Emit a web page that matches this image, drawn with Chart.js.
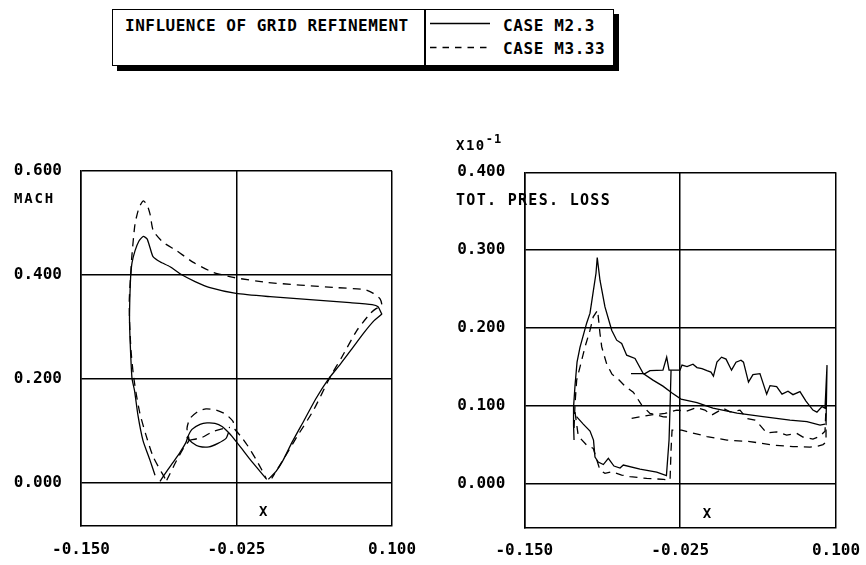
<!DOCTYPE html>
<html>
<head>
<meta charset="utf-8">
<script src="https://cdn.jsdelivr.net/npm/chart.js@4/dist/chart.umd.min.js"></script>
<style>
  html, body { margin: 0; padding: 0; background: #fff; overflow: hidden; }
  #page { position: relative; width: 866px; height: 565px; overflow: hidden; background: #fff;
          font-family: "DejaVu Sans Mono", monospace; color: #000; }
  .lbl { position: absolute; white-space: nowrap; font-weight: bold; line-height: 1; }
  #key { position: absolute; left: 112px; top: 9px; width: 500px; height: 55px;
         border: 1.5px solid #000; box-shadow: 5px 5px 0 #000; background: #fff; }
  #keyDiv { position: absolute; left: 424px; top: 9px; width: 1.5px; height: 58px; background: #000; }
  #keyLines { position: absolute; left: 0; top: 0; }
  canvas { position: absolute; }
  #machCanvas { left: 0; top: 120px; }
  #lossCanvas { left: 433px; top: 120px; }
</style>
</head>
<body>
<div id="page">
  <div id="key"></div>
  <div id="keyDiv"></div>
  <svg id="keyLines" width="866" height="80">
    <line x1="430" y1="23.5" x2="490" y2="23.5" stroke="#000" stroke-width="1.3"/>
    <line x1="430" y1="47.5" x2="490" y2="47.5" stroke="#000" stroke-width="1.3" stroke-dasharray="6.5 6"/>
  </svg>
  <div class="lbl" style="left:125px; top:18px; font-size:16px; letter-spacing:0.5px;">INFLUENCE OF GRID REFINEMENT</div>
  <div class="lbl" style="left:503px; top:18px; font-size:16px; letter-spacing:0.6px;">CASE M2.3</div>
  <div class="lbl" style="left:503px; top:41px; font-size:16px; letter-spacing:0.6px;">CASE M3.33</div>

  <canvas id="machCanvas" width="437" height="445"></canvas>
  <canvas id="lossCanvas" width="448" height="445"></canvas>

  <div class="lbl" style="left:14px; top:191px; font-size:14px; letter-spacing:1.8px;">MACH</div>
  <div class="lbl" style="left:456px; top:138px; font-size:14px; letter-spacing:1.5px;">X10<span style="position:relative; top:-7px; font-size:12px; letter-spacing:1px;">-1</span></div>
  <div class="lbl" style="left:456px; top:193px; font-size:15px; letter-spacing:1.3px;">TOT. PRES. LOSS</div>
</div>

<script>
// Axis tick values
const xTicks = [-0.15, -0.025, 0.1];
const machTicks = [0, 0.2, 0.4, 0.6];
const lossTicks = [0, 0.1, 0.2, 0.3, 0.4];

// Mach number along the profile, case M2.3 (solid)
const machM23Outer = [
  [-0.0905,0.015],[-0.0945,0.0435],[-0.1002,0.082],[-0.1042,0.130],[-0.107,0.178],[-0.109,0.201],
  [-0.1102,0.2545],[-0.111,0.312],[-0.1108,0.350],[-0.1104,0.379],[-0.110,0.400],[-0.109,0.423],
  [-0.1066,0.446],[-0.1034,0.465],[-0.0999,0.4736],[-0.0969,0.469],[-0.0945,0.452],[-0.0921,0.435],
  [-0.0865,0.425],[-0.0784,0.4155],[-0.069,0.400],[-0.0583,0.387],[-0.0463,0.3753],[-0.0254,0.3643],
  [0.002,0.358],[0.0341,0.3522],[0.0663,0.3465],[0.084,0.3427],[0.0888,0.3388],[0.0912,0.3273],
  [0.0918,0.3248],[0.0856,0.312],[0.0775,0.289],[0.0679,0.2583],[0.0582,0.2276],[0.0486,0.1988],
  [0.0389,0.1624],[0.0293,0.1202],[0.0196,0.078],[0.0124,0.0435],[0.0068,0.0224],[0.0006,0.0071]
];
const machM23Inner = [
  [-0.0865,0.0033],[-0.0817,0.0205],[-0.076,0.0397],[-0.0704,0.0589],[-0.0656,0.078],[-0.064,0.0895],
  [-0.0608,0.103],[-0.0543,0.1126],[-0.0487,0.1154],[-0.0423,0.1145],[-0.0366,0.1087],[-0.0314,0.0972],
  [-0.0286,0.0895],[-0.0222,0.0704],[-0.0141,0.0454],[-0.0061,0.0224],[-0.0007,0.0071]
];
const machM23InnerLoop = [
  [-0.0314,0.0972],[-0.0334,0.0857],[-0.0399,0.0761],[-0.0471,0.0694],[-0.0551,0.0704],
  [-0.0608,0.078],[-0.0648,0.0876],[-0.064,0.0895]
];

// Mach number along the profile, case M3.33 (dashed)
const machM333Outer = [
  [-0.0825,0.009],[-0.0919,0.0499],[-0.0977,0.0915],[-0.1026,0.1331],[-0.1058,0.1739],[-0.108,0.2098],
  [-0.1098,0.2545],[-0.111,0.312],[-0.1112,0.3503],[-0.1106,0.3791],[-0.110,0.4015],[-0.1092,0.4334],
  [-0.1066,0.4974],[-0.1034,0.5287],[-0.0999,0.5421],[-0.0969,0.5344],[-0.0945,0.5166],[-0.0919,0.4846],
  [-0.0838,0.4621],[-0.0731,0.4462],[-0.0597,0.4238],[-0.0436,0.4046],[-0.0276,0.395],[-0.0007,0.3854],
  [0.0529,0.3758],[0.0783,0.3714],[0.085,0.3643],[0.0904,0.3536],[0.0918,0.3407],[0.0872,0.335],
  [0.0824,0.3254],[0.0717,0.2928],[0.0596,0.2416],[0.0502,0.2033],[0.0368,0.1394],[0.0234,0.0882],
  [0.0132,0.0474],[0.0068,0.0224],[0.0033,0.009]
];
const machM333Inner = [
  [-0.0811,0.0052],[-0.0731,0.0435],[-0.0672,0.0685],[-0.0632,0.0819],[-0.0648,0.1049],[-0.0624,0.1241],
  [-0.0559,0.1375],[-0.0495,0.1423],[-0.0415,0.1404],[-0.0334,0.1317],[-0.0278,0.1183],[-0.0262,0.103],
  [-0.0214,0.0895],[-0.0157,0.0704],[-0.0093,0.0454],[-0.0045,0.0244],[-0.0013,0.009]
];
const machM333InnerLoop = [
  [-0.0632,0.0819],[-0.0527,0.0876],[-0.0439,0.0991],[-0.035,0.1049],[-0.0302,0.1068]
];

// Total pressure loss (x10^-1), case M2.3 (solid)
const lossM23Peak = [
  [-0.1101,0.0564],[-0.1105,0.0756],[-0.1105,0.0987],[-0.1093,0.1269],[-0.1077,0.1564],[-0.1053,0.1756],
  [-0.1,0.2064],[-0.0973,0.2192],[-0.0949,0.2449],[-0.0925,0.2705],[-0.0915,0.2906],[-0.0893,0.2615],
  [-0.0853,0.2273],[-0.0799,0.1974],[-0.0759,0.1846],[-0.0719,0.1804],[-0.0679,0.1654],[-0.0612,0.1611],
  [-0.0546,0.1419],[-0.0468,0.1333],[-0.0388,0.1256],[-0.0315,0.1167],[-0.0243,0.109],[-0.0115,0.1045],
  [0.0013,0.0974],[0.0206,0.091],[0.0414,0.0865],[0.0631,0.082],[0.0767,0.0801],[0.0872,0.0756],[0.0912,0.0769]
];
const lossM23Lower = [
  [-0.1081,0.0865],[-0.1027,0.0769],[-0.0973,0.0679],[-0.0945,0.0564],[-0.0933,0.0346],[-0.0907,0.0282],
  [-0.0866,0.025],[-0.0826,0.0329],[-0.0781,0.0231],[-0.0732,0.0205],[-0.0706,0.0244],[-0.0572,0.0192],
  [-0.0438,0.0154],[-0.036,0.0109],[-0.0339,0.0564],[-0.0331,0.0987],[-0.0323,0.1461]
];
const lossM23Upper = [
  [-0.0644,0.1417],[-0.0532,0.1417],[-0.0492,0.1455],[-0.0388,0.1461],[-0.0358,0.1628],[-0.0339,0.1461],
  [-0.0251,0.1461],[-0.0235,0.1526],[-0.0195,0.1506],[-0.0147,0.1538],[-0.0115,0.1494],[-0.0075,0.1481],
  [-0.0035,0.1455],[-0.0003,0.1436],[0.0017,0.1385],[0.0045,0.1564],[0.0082,0.1628],[0.0118,0.1603],
  [0.0162,0.1461],[0.0198,0.1564],[0.0238,0.159],[0.0258,0.1564],[0.0298,0.1308],[0.0334,0.1404],
  [0.039,0.1417],[0.0444,0.1154],[0.0471,0.1263],[0.0524,0.125],[0.0567,0.1154],[0.0615,0.1192],
  [0.0655,0.1147],[0.0711,0.1186],[0.0759,0.1064],[0.0815,0.0949],[0.0847,0.0923],[0.0888,0.0994],
  [0.0912,0.0974],[0.0928,0.1526],[0.092,0.0756]
];

// Total pressure loss (x10^-1), case M3.33 (dashed)
const lossM333Peak = [
  [-0.1101,0.0718],[-0.1093,0.1035],[-0.108,0.1333],[-0.1053,0.1504],[-0.1013,0.176],[-0.0973,0.1974],
  [-0.0947,0.2145],[-0.0912,0.223],[-0.0893,0.1932],[-0.0879,0.176],[-0.0839,0.1538],[-0.0797,0.141],
  [-0.0746,0.1346],[-0.0692,0.1256],[-0.0626,0.1179],[-0.0558,0.1013],[-0.0492,0.0906],[-0.0385,0.0863],
  [-0.0345,0.0859]
];
const lossM333Lower = [
  [-0.1093,0.0923],[-0.1067,0.0615],[-0.1,0.05],[-0.0947,0.0458],[-0.0893,0.0179],[-0.0853,0.0137],
  [-0.0799,0.0158],[-0.0719,0.0115],[-0.0652,0.0094],[-0.0518,0.0073],[-0.0385,0.006],[-0.0331,0.0051],
  [-0.0323,0.0436],[-0.0315,0.0692],[-0.0238,0.0692],[-0.0035,0.0609],[0.0126,0.0564],[0.031,0.0545],
  [0.0495,0.05],[0.0655,0.0481],[0.0791,0.0474],[0.0855,0.0487],[0.0896,0.0506],[0.092,0.0538],[0.092,0.0756]
];
const lossM333Mid = [
  [-0.0639,0.0842],[-0.0492,0.0885],[-0.0372,0.0906],[-0.0278,0.0949],[-0.0198,0.0936],[-0.0117,0.0981],
  [-0.0051,0.0949],[0.0003,0.0885],[0.0096,0.097],[0.015,0.0927],[0.023,0.0949],[0.0284,0.0842],
  [0.035,0.082],[0.039,0.0756],[0.0444,0.0654],[0.0524,0.067],[0.0604,0.0628],[0.0685,0.065],
  [0.0735,0.0603],[0.0815,0.0577],[0.0872,0.0615],[0.0912,0.0679],[0.092,0.0987]
];

const FONT = '"DejaVu Sans Mono", monospace';

// "X" caption drawn inside the plot frame, right of the middle grid line
const innerCaption = {
  id: 'innerCaption',
  afterDraw(chart, args, opts) {
    const { ctx, chartArea, scales } = chart;
    ctx.save();
    ctx.font = 'bold 14px ' + FONT;
    ctx.fillStyle = '#000';
    ctx.textAlign = 'center';
    ctx.textBaseline = 'middle';
    ctx.fillText(opts.text, scales.x.getPixelForValue(opts.at) + opts.dx, chartArea.bottom - opts.dy);
    ctx.restore();
  }
};

function curve(points, dashed, tension) {
  return {
    data: points.map(p => ({ x: p[0], y: p[1] })),
    showLine: true,
    borderColor: '#000',
    borderWidth: 1.3,
    borderDash: dashed ? [8, 6] : [],
    pointRadius: 0,
    pointHoverRadius: 0,
    tension: tension,
    fill: false
  };
}

function makeChart(canvasId, datasets, yTicks, yMin, yMax, frame) {
  const tickFont = { family: FONT, size: 16, weight: 'bold' };
  const grid = { color: '#000', lineWidth: 1.5, drawTicks: false };
  const border = { color: '#000', width: 1.5 };
  return new Chart(document.getElementById(canvasId), {
    type: 'scatter',
    data: { datasets },
    plugins: [innerCaption],
    options: {
      responsive: false,
      animation: false,
      devicePixelRatio: 1,
      layout: { padding: { top: frame.top, right: frame.right, left: 0, bottom: 0 } },
      plugins: {
        legend: { display: false },
        tooltip: { enabled: false },
        innerCaption: { text: 'X', at: -0.025, dx: 26.7, dy: frame.capDy }
      },
      scales: {
        x: {
          type: 'linear', min: -0.15, max: 0.1,
          afterBuildTicks: s => { s.ticks = xTicks.map(v => ({ value: v })); },
          afterFit: s => { s.height = frame.xHeight; },
          ticks: { callback: v => Number(v).toFixed(3), font: tickFont, color: '#000',
                   padding: frame.xPad, maxRotation: 0, autoSkip: false },
          grid, border
        },
        y: {
          type: 'linear', min: yMin, max: yMax,
          afterBuildTicks: s => { s.ticks = yTicks.map(v => ({ value: v })); },
          afterFit: s => { s.width = frame.yWidth; },
          ticks: { callback: v => Number(v).toFixed(3), font: tickFont, color: '#000',
                   padding: 19, autoSkip: false },
          grid, border
        }
      }
    }
  });
}

makeChart('machCanvas', [
  curve(machM23Outer, false, 0.2),
  curve(machM23Inner, false, 0.2),
  curve(machM23InnerLoop, false, 0.2),
  curve(machM333Outer, true, 0.2),
  curve(machM333Inner, true, 0.2),
  curve(machM333InnerLoop, true, 0.2)
], machTicks, -0.082, 0.6,
  { top: 50.7, right: 45, yWidth: 81, xHeight: 39.3, xPad: 15, capDy: 13 });

makeChart('lossCanvas', [
  curve(lossM23Peak, false, 0),
  curve(lossM23Lower, false, 0),
  curve(lossM23Upper, false, 0),
  curve(lossM333Peak, true, 0),
  curve(lossM333Lower, true, 0),
  curve(lossM333Mid, true, 0)
], lossTicks, -0.0555, 0.4,
  { top: 52.3, right: 45, yWidth: 91.3, xHeight: 37.7, xPad: 14, capDy: 12.5 });
</script>
</body>
</html>
